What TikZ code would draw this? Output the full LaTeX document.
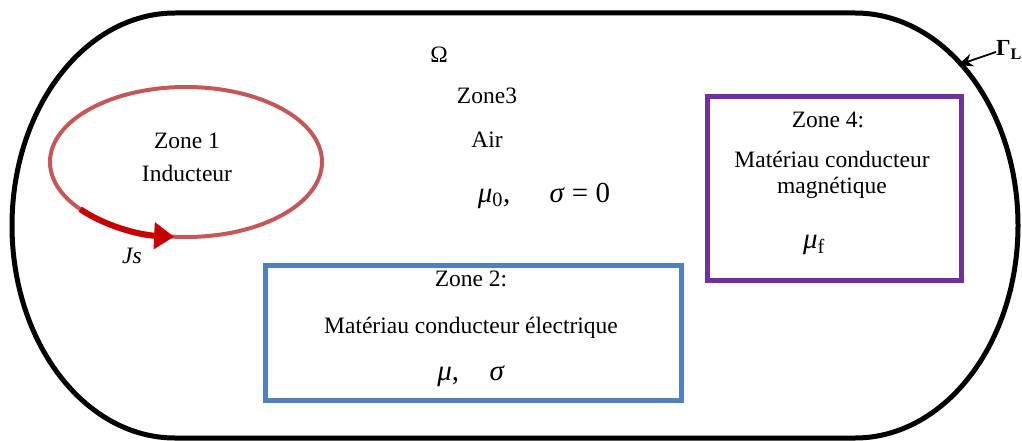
\documentclass[tikz,border=0pt]{standalone}
\usepackage{fontspec}
\setmainfont{Liberation Serif}
\usetikzlibrary{arrows.meta}
\definecolor{outline}{RGB}{0,0,0}
\definecolor{coilc}{RGB}{196,88,88}
\definecolor{jsred}{RGB}{196,0,0}
\definecolor{zbluec}{RGB}{79,129,189}
\definecolor{zpurple}{RGB}{112,48,160}
\tikzset{
  txt/.style={anchor=base, inner sep=0pt, font=\fontsize{23.5}{28}\selectfont},
  mth/.style={anchor=base, inner sep=0pt, font=\fontsize{29}{33}\selectfont},
  zonebox/.style={line width=5pt},
}
\begin{document}
\begin{tikzpicture}[x=1pt,y=-1pt]
\useasboundingbox (0,0) rectangle (1022,441);
\fill[white] (0,0) rectangle (1022,441);
% outer domain
\draw[line width=5pt, outline] (175,13) -- (855,13)
  arc[start angle=-90, end angle=90, x radius=163, y radius=212.5]
  -- (175,438)
  arc[start angle=90, end angle=270, x radius=163, y radius=212.5] -- cycle;
% Gamma_L label
\node[txt, font=\fontsize{23}{27}\selectfont\bfseries] (gl) at (1009,56) {Γ\textsubscript{L}};
\coordinate (gltip) at (958,65);
\draw[line width=1.8pt, -{Stealth[length=15pt,width=13pt]}] (996,52) -- (gltip);
% Zone 1
\coordinate (z1c) at (186,162);
\draw[line width=4pt, coilc] (z1c) ellipse[x radius=136, y radius=75];
\draw[line width=6pt, jsred, -{Triangle[length=20pt,width=26pt]}]
  ([shift={(141:136 and 75)}]z1c) arc[start angle=141, end angle=95, x radius=136, y radius=75];
\node[txt] (z1a) at (187,148) {Zone 1};
\node[txt] (z1b) at (187,181) {Inducteur};
\node[txt] (js) at (132,263) {\textit{Js}};
% Zone 3
\node[txt] (om) at (439,63) {Ω};
\node[txt] (z3a) at (487,104) {Zone3};
\node[txt] (z3b) at (487,147) {Air};
\node[mth] (z3c) at (544,202) {\textit{μ}\textsubscript{0},\hspace{1.35em}\textit{σ} = 0};
% Zone 2
\draw[zonebox, zbluec] (265,265) rectangle (681,400);
\node[txt] (z2a) at (471,286) {Zone 2:};
\node[txt] (z2b) at (471,333) {Matériau conducteur électrique};
\node[mth] (z2c) at (471,380) {\textit{μ},\hspace{1.05em}\textit{σ}};
% Zone 4
\draw[zonebox, zpurple] (707,97) rectangle (961,280);
\node[txt] (z4a) at (828,128) {Zone 4:};
\node[txt] (z4b) at (832,167) {Matériau conducteur};
\node[txt] (z4c) at (832,193) {magnétique};
\node[mth] (z4d) at (814,248) {\textit{μ}\textsubscript{f}};
\end{tikzpicture}
\end{document}
